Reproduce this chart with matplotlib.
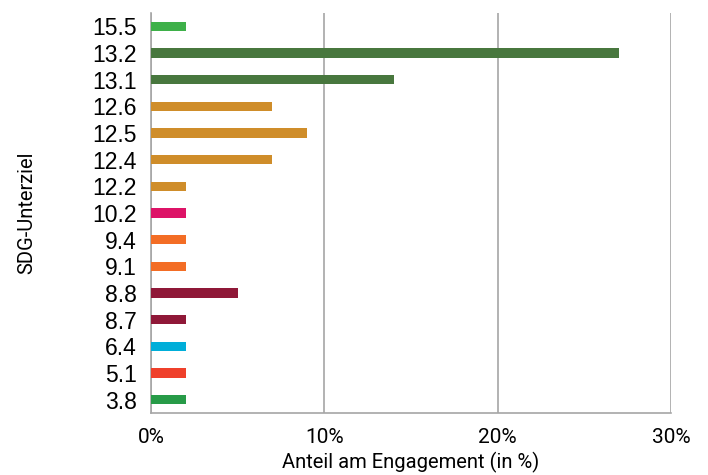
import matplotlib.pyplot as plt

goals = ["3.8", "5.1", "6.4", "8.7", "8.8", "9.1", "9.4", "10.2",
         "12.2", "12.4", "12.5", "12.6", "13.1", "13.2", "15.5"]
shares = [2, 2, 2, 2, 5, 2, 2, 2, 2, 7, 9, 7, 14, 27, 2]
colors = ["#279B48", "#EF402B", "#00AED9", "#8F1838", "#8F1838", "#F36D25",
          "#F36D25", "#DD1367", "#CF8D2A", "#CF8D2A", "#CF8D2A", "#CF8D2A",
          "#48773E", "#48773E", "#3EB049"]
x_ticks = [0, 10, 20, 30]

fig = plt.figure(figsize=(7.08, 4.75), dpi=100)
ax = fig.add_axes([151 / 708, 62 / 475, 520 / 708, 400 / 475])

ax.barh(range(len(goals)), shares, height=0.34, color=colors, zorder=3)
ax.set_xlim(0, 30)
ax.set_ylim(-0.5, len(goals) - 0.5)
ax.set_yticks(range(len(goals)))
ax.set_yticklabels(goals, fontsize=16.5, family="Liberation Sans")
ax.set_xticks(x_ticks)
ax.set_xticklabels([f"{t}%" for t in x_ticks], fontsize=15, family="Roboto")
ax.tick_params(length=0)
ax.tick_params(axis="y", pad=10)
ax.tick_params(axis="x", pad=11)

ax.grid(axis="x", color="#A6A6A6", linewidth=1.2, zorder=0)
for side in ["top", "right"]:
    ax.spines[side].set_visible(False)
for side in ["left", "bottom"]:
    ax.spines[side].set_color("#A6A6A6")
    ax.spines[side].set_linewidth(1.2)

ax.set_xlabel("Anteil am Engagement (in %)", fontsize=14.5, family="Roboto")
ax.set_ylabel("SDG-Unterziel", fontsize=14.5, family="Roboto")
ax.xaxis.set_label_coords(0.5, -0.097)
ax.yaxis.set_label_coords(-0.221, 0.5)

fig.savefig("out.png", dpi=100)
